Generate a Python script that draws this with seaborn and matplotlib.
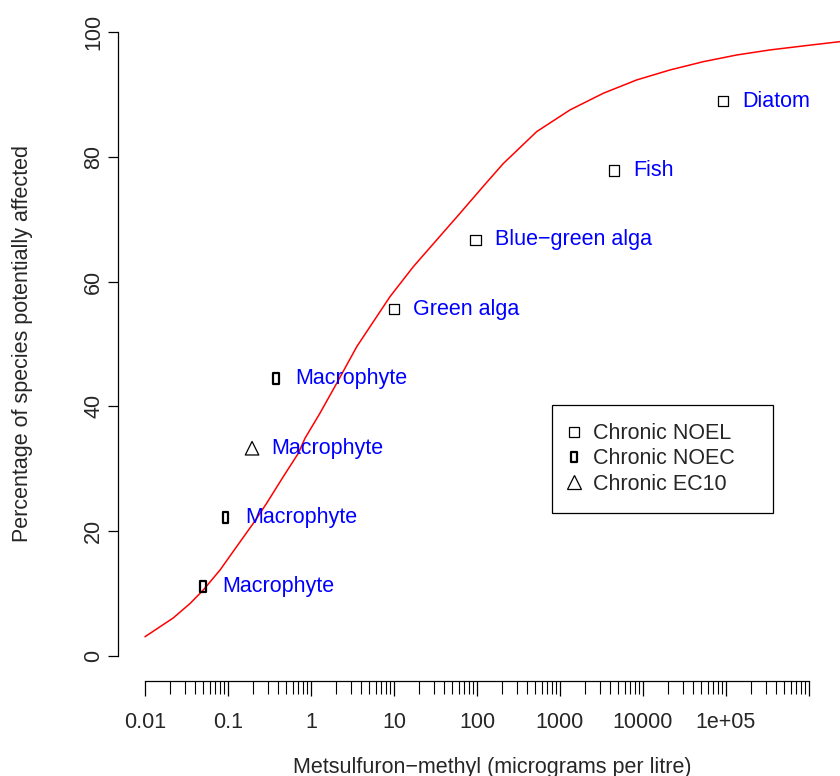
import numpy as np
import pandas as pd
import seaborn as sns
import matplotlib.pyplot as plt
from matplotlib.path import Path
from matplotlib.lines import Line2D
from matplotlib.ticker import FixedLocator, FixedFormatter, NullFormatter

# species sensitivity data
species = ['Macrophyte', 'Macrophyte', 'Macrophyte', 'Macrophyte',
           'Green alga', 'Blue\u2212green alga', 'Fish', 'Diatom']
conc = [0.05, 0.094, 0.195, 0.378, 10, 96, 4500, 93000]
pct = [11.1, 22.2, 33.3, 44.4, 55.6, 66.7, 77.8, 88.9]
endpoint = ['Chronic NOEC', 'Chronic NOEC', 'Chronic EC10', 'Chronic NOEC',
            'Chronic NOEL', 'Chronic NOEL', 'Chronic NOEL', 'Chronic NOEL']

# fitted distribution curve
curve_conc = [0.01, 0.0219, 0.0348, 0.0504, 0.0802, 0.127, 0.202, 0.292, 0.463,
              0.703, 0.847, 1.28, 2.04, 3.56, 6.19, 8.95, 17.1, 32.7, 62.4,
              131, 207, 524, 1318, 3327, 8395, 21130, 53330, 134600, 338800,
              853100, 2360000]
curve_pct = [3.09, 6.1, 8.4, 10.58, 13.78, 17.52, 21.27, 24.47, 28.73,
             32.48, 34.89, 38.89, 43.70, 49.57, 54.38, 57.58, 62.39, 66.67, 70.94,
             75.9, 78.9, 84.03, 87.50, 90.18, 92.31, 93.91, 95.24, 96.31, 97.12,
             97.76, 98.45]

major_ticks = [0.01, 0.1, 1, 10, 100, 1000, 10000, 1e5, 1e6]
major_labels = ['0.01', '0.1', '1', '10', '100', '1000', '10000', '1e+05', '']
y_ticks = [0, 20, 40, 60, 80, 100]
legend_order = ['Chronic NOEL', 'Chronic NOEC', 'Chronic EC10']

sns.set_style('ticks')
plt.rcParams['font.family'] = ['Liberation Sans', 'DejaVu Sans']
plt.rcParams['font.size'] = 15.5

df = pd.DataFrame({'species': species, 'conc': conc, 'pct': pct, 'endpoint': endpoint})
curve = pd.DataFrame({'conc': curve_conc, 'pct': curve_pct})

fig = plt.figure(figsize=(8.4, 7.76), dpi=100)
ax = fig.add_axes([118 / 840, 95 / 776, 749 / 840, 674 / 776])

# narrow box marker used for NOEC
noec = Path([(-0.25, -0.5), (0.25, -0.5), (0.25, 0.5), (-0.25, 0.5), (-0.25, -0.5)],
            [Path.MOVETO, Path.LINETO, Path.LINETO, Path.LINETO, Path.CLOSEPOLY])
marker_map = {'Chronic NOEL': 's', 'Chronic NOEC': noec, 'Chronic EC10': '^'}
size_map = {'Chronic NOEL': 52, 'Chronic NOEC': 62, 'Chronic EC10': 95}
lw_map = {'Chronic NOEL': 0.9, 'Chronic NOEC': 1.6, 'Chronic EC10': 0.9}

sns.lineplot(data=curve, x='conc', y='pct', color='red', lw=1.1,
             estimator=None, sort=False, ax=ax)

for ep in legend_order:
    sub = df[df.endpoint == ep]
    sns.scatterplot(data=sub, x='conc', y='pct', marker=marker_map[ep], s=size_map[ep],
                    facecolors='none', edgecolor='black', linewidth=lw_map[ep],
                    ax=ax, legend=False, zorder=3)

for _, r in df.iterrows():
    ax.annotate(r['species'], (r['conc'], r['pct']), xytext=(13.7, 0),
                textcoords='offset points', ha='left', va='center', color='#0000FF')

ax.set_xscale('log')
ax.set_xlim(10 ** -2.325, 10 ** 6.699)
ax.set_ylim(-4, 104)

ax.spines['top'].set_visible(False)
ax.spines['right'].set_visible(False)
ax.spines['left'].set_bounds(0, 100)
ax.spines['bottom'].set_bounds(0.01, 1e6)
for s in ['left', 'bottom']:
    ax.spines[s].set_linewidth(0.9)
    ax.spines[s].set_color('black')

ax.xaxis.set_major_locator(FixedLocator(major_ticks))
ax.xaxis.set_major_formatter(FixedFormatter(major_labels))
ax.xaxis.set_minor_locator(FixedLocator([k * 10.0 ** e for e in range(-2, 6) for k in range(2, 10)]))
ax.xaxis.set_minor_formatter(NullFormatter())
ax.set_yticks(y_ticks)
ax.set_yticklabels([str(v) for v in y_ticks])

ax.tick_params(axis='x', which='major', length=11, width=0.9, pad=11, color='black')
ax.tick_params(axis='x', which='minor', length=9, width=0.8, color='black')
ax.tick_params(axis='y', which='major', length=7, width=0.9, pad=3, labelrotation=90, color='black')
for lab in ax.get_yticklabels():
    lab.set_va('center')

ax.set_xlabel('Metsulfuron\u2212methyl (micrograms per litre)')
ax.set_ylabel('Percentage of species potentially affected')
ax.xaxis.set_label_coords(0.5, -0.1128)
ax.yaxis.set_label_coords(-0.1135, 0.5)

handles = [Line2D([], [], ls='none', marker=marker_map[ep], ms=np.sqrt(size_map[ep]),
                  mfc='none', mec='black', mew=lw_map[ep]) for ep in legend_order]
leg = ax.legend(handles, legend_order, loc='upper left',
                bbox_to_anchor=(0.5794, 0.2537, 0.2951, 0.1558), mode='expand',
                frameon=True, fancybox=False, edgecolor='black', framealpha=1,
                borderpad=0.84, handlelength=0.4, handletextpad=0.67, labelspacing=0.2,
                borderaxespad=0)
leg.get_frame().set_linewidth(0.9)

plt.savefig('out.png', dpi=100)
